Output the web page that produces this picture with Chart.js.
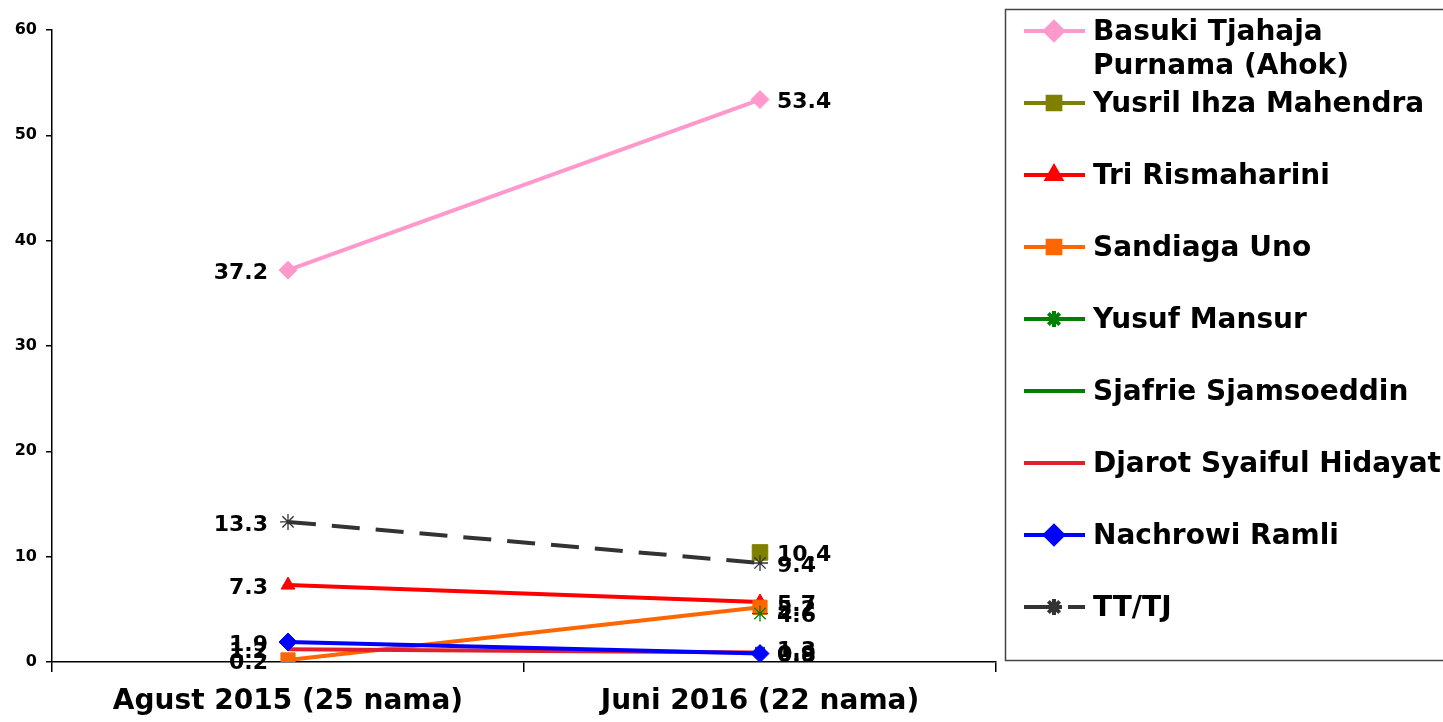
<!DOCTYPE html>
<html>
<head>
<meta charset="utf-8">
<script src="https://cdn.jsdelivr.net/npm/chart.js@4/dist/chart.umd.min.js"></script>
<style>
  html, body { margin:0; padding:0; background:#fff; }
</style>
</head>
<body>
<canvas id="chart" width="1443" height="722"></canvas>
<script>
// categories (two survey rounds)
const periods = ['Agust 2015 (25 nama)', 'Juni 2016 (22 nama)'];

// series values, % per round (null = not in that round)
const ahok     = [37.2, 53.4];
const yusril   = [null, 10.4];
const risma    = [7.3, 5.7];
const sandiaga = [0.2, 5.2];
const mansur   = [null, 4.6];
const sjafrie  = [null, 1.3];
const djarot   = [1.2, 0.9];
const nachrowi = [1.9, 0.8];
const ttTj     = [13.3, 9.4];

// y axis ticks
const yTicks = [0, 10, 20, 30, 40, 50, 60];

const FONT = '"DejaVu Sans", Verdana, sans-serif';

const series = [
  { label: ['Basuki Tjahaja', 'Purnama (Ahok)'], data: ahok, color: '#FF99CC', style: 'rectRot', r: 9 },
  { label: ['Yusril Ihza Mahendra'], data: yusril, color: '#808000', style: 'rect', r: 11 },
  { label: ['Tri Rismaharini'], data: risma, color: '#FF0000', style: 'triangle', r: 8 },
  { label: ['Sandiaga Uno'], data: sandiaga, color: '#FF6600', style: 'rect', r: 10 },
  { label: ['Yusuf Mansur'], data: mansur, color: '#008000', style: 'star', r: 8 },
  { label: ['Sjafrie Sjamsoeddin'], data: sjafrie, color: '#008000', style: 'line', r: 5 },
  { label: ['Djarot Syaiful Hidayat'], data: djarot, color: '#E0202F', style: false, r: 0 },
  { label: ['Nachrowi Ramli'], data: nachrowi, color: '#0000FF', style: 'rectRot', r: 9 },
  { label: ['TT/TJ'], data: ttTj, color: '#333333', style: 'star', r: 8, dash: [28, 16] },
];

// value labels next to each point: left of round 1, right of round 2
const valueLabels = {
  id: 'valueLabels',
  afterDatasetsDraw(chart) {
    const ctx = chart.ctx;
    ctx.save();
    ctx.font = 'bold 22px ' + FONT;
    ctx.fillStyle = '#000';
    ctx.textBaseline = 'middle';
    chart.data.datasets.forEach((ds, i) => {
      const meta = chart.getDatasetMeta(i);
      meta.data.forEach((pt, j) => {
        const v = ds.data[j];
        if (v == null) return;
        if (j === 0) { ctx.textAlign = 'right'; ctx.fillText(v.toFixed(1), pt.x - 20, pt.y + 3); }
        else { ctx.textAlign = 'left'; ctx.fillText(v.toFixed(1), pt.x + 17, pt.y + 3); }
      });
    });
    ctx.restore();
  }
};

// boxed legend at the right, like the original sheet
const sideLegend = {
  id: 'sideLegend',
  afterDraw(chart) {
    const ctx = chart.ctx;
    ctx.save();
    ctx.strokeStyle = '#444'; ctx.lineWidth = 1.5;
    ctx.strokeRect(1005.5, 9.5, 460, 651);
    ctx.font = 'bold 28px ' + FONT;
    ctx.textBaseline = 'middle';
    ctx.textAlign = 'left';
    let y = 31;
    series.forEach((s) => {
      ctx.strokeStyle = s.color; ctx.lineWidth = 4;
      ctx.setLineDash(s.dash || []);
      ctx.beginPath(); ctx.moveTo(1024, y); ctx.lineTo(1085, y); ctx.stroke();
      ctx.setLineDash([]);
      if (s.style && s.style !== 'line') {
        const r = s.style === 'star' ? 8 : Math.min(s.r, 9);
        ctx.fillStyle = s.color; ctx.strokeStyle = s.color;
        Chart.helpers.drawPoint(ctx, { pointStyle: s.style, radius: r, rotation: 0, borderWidth: s.style === 'star' ? 1.2 : 1 }, 1054, y);
      }
      ctx.fillStyle = '#000';
      s.label.forEach((t, k) => ctx.fillText(t, 1093, y + 2 + k * 34));
      y = s.label.length > 1 ? 103 : y + 72;
    });
    ctx.restore();
  }
};

new Chart(document.getElementById('chart'), {
  type: 'line',
  data: {
    labels: periods,
    datasets: series.map((s, i) => ({
      label: s.label.join(' '),
      data: s.data,
      borderColor: s.color,
      backgroundColor: s.color,
      borderWidth: 4,
      borderDash: s.dash || [],
      pointStyle: s.style,
      pointRadius: s.r,
      pointBorderWidth: s.style === 'star' ? 1.3 : (s.style === 'line' ? 3 : 1),
      pointBorderColor: s.color,
      pointBackgroundColor: s.color,
      tension: 0,
      order: series.length - i,
    }))
  },
  options: {
    responsive: false, animation: false,
    layout: { padding: { top: 30, right: 447, left: 0, bottom: 0 } },
    plugins: { legend: { display: false }, tooltip: { enabled: false } },
    scales: {
      x: {
        offset: true,
        grid: { offset: true, drawOnChartArea: false, drawTicks: true, tickLength: 10, color: '#000', lineWidth: 1.5 },
        border: { color: '#000', width: 1.5 },
        ticks: { color: '#000', padding: 13, font: { family: FONT, weight: 'bold', size: 28 }, maxRotation: 0 },
        afterFit(scale) { scale.height = 60; }
      },
      y: {
        min: 0, max: 60,
        afterBuildTicks(scale) { scale.ticks = yTicks.map(v => ({ value: v })); },
        grid: { drawOnChartArea: false, drawTicks: true, tickLength: 6, color: '#000', lineWidth: 1.5 },
        border: { color: '#000', width: 1.5 },
        ticks: { color: '#000', padding: 9, font: { family: FONT, weight: 'bold', size: 16 } },
        afterFit(scale) { scale.width = 52; }
      }
    }
  },
  plugins: [valueLabels, sideLegend]
});
</script>
</body>
</html>
